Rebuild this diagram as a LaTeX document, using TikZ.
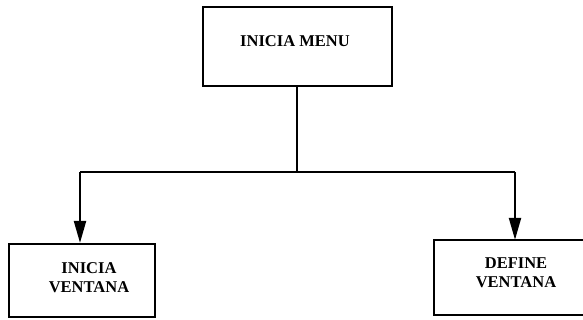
\documentclass[tikz,border=0pt]{standalone}
\usepackage{fontspec}
\setmainfont{Liberation Serif}
\usetikzlibrary{arrows.meta}
\begin{document}
\begin{tikzpicture}[x=1pt,y=-1pt,
  box/.style={draw,line width=2.2pt,inner sep=0pt},
  openbox/.style={inner sep=0pt},
  lbl/.style={inner sep=0pt,align=center,font=\fontsize{16.5}{19}\selectfont\bfseries},
  conn/.style={line width=2.2pt},
  arr/.style={line width=2.2pt,-{Triangle[length=22pt,width=12pt]}}]
\useasboundingbox (0,0) rectangle (583,320);
\node[box,minimum width=189pt,minimum height=79pt] (top) at (297.5,46.5) {};
\node[box,minimum width=146pt,minimum height=73pt] (left) at (82,280.5) {};
\node[openbox,minimum width=149pt,minimum height=75pt] (right) at (508.5,277.5) {};
\draw[conn] (right.north east) -- (right.north west) -- (right.south west) -- (right.south east);
\node[lbl] (ttop) at (295,41.5) {INICIA MENU};
\node[lbl] (tleft) at (89,278) {INICIA\\VENTANA};
\node[lbl] (tright) at (516,272.5) {DEFINE\\VENTANA};
\coordinate (j) at (297,172);
\coordinate (jl) at (80,172);
\coordinate (jr) at (515,172);
\draw[conn] (top.south -| j) -- (j);
\draw[conn] (jl) -- (jr);
\draw[arr] (jl) -- (jl |- left.north);
\draw[arr] (jr) -- (jr |- right.north);
\end{tikzpicture}
\end{document}
